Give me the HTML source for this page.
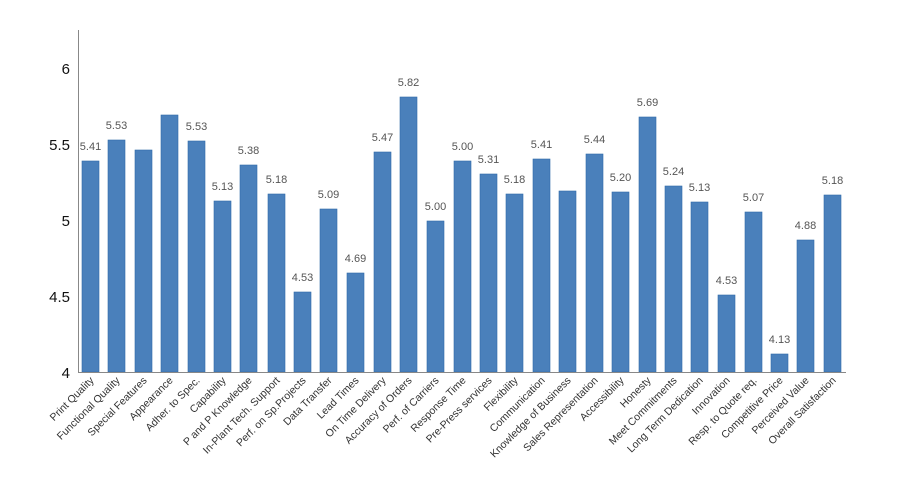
<!DOCTYPE html>
<html><head><meta charset="utf-8"><style>body{margin:0;background:#fff}svg{display:block}</style></head><body>
<svg width="900" height="500" xmlns="http://www.w3.org/2000/svg" font-family="Liberation Sans, sans-serif">
<g font-size="15" fill="#111" text-anchor="end">
<text x="70" y="74">6</text><text x="70" y="150">5.5</text><text x="70" y="226">5</text><text x="70" y="302">4.5</text><text x="70" y="378">4</text>
</g>
<g fill="#4a80bb" stroke="#2f6aa8" stroke-width="0.6">
<rect x="82" y="161" width="17" height="211"/>
<rect x="108" y="140" width="17" height="232"/>
<rect x="135" y="150" width="17" height="222"/>
<rect x="161" y="115" width="17" height="257"/>
<rect x="188" y="141" width="17" height="231"/>
<rect x="214" y="201" width="17" height="171"/>
<rect x="240" y="165" width="17" height="207"/>
<rect x="268" y="194" width="17" height="178"/>
<rect x="294" y="292" width="17" height="80"/>
<rect x="320" y="209" width="17" height="163"/>
<rect x="347" y="273" width="17" height="99"/>
<rect x="374" y="152" width="17" height="220"/>
<rect x="400" y="97" width="17" height="275"/>
<rect x="427" y="221" width="17" height="151"/>
<rect x="454" y="161" width="17" height="211"/>
<rect x="480" y="174" width="17" height="198"/>
<rect x="506" y="194" width="17" height="178"/>
<rect x="533" y="159" width="17" height="213"/>
<rect x="559" y="191" width="17" height="181"/>
<rect x="586" y="154" width="17" height="218"/>
<rect x="612" y="192" width="17" height="180"/>
<rect x="639" y="117" width="17" height="255"/>
<rect x="665" y="186" width="17" height="186"/>
<rect x="691" y="202" width="17" height="170"/>
<rect x="718" y="295" width="17" height="77"/>
<rect x="745" y="212" width="17" height="160"/>
<rect x="771" y="354" width="17" height="18"/>
<rect x="797" y="240" width="17" height="132"/>
<rect x="824" y="195" width="17" height="177"/>
</g>
<g font-size="11" fill="#555" text-anchor="middle">
<text x="90.5" y="150">5.41</text>
<text x="116.5" y="129">5.53</text>
<text x="196.5" y="130">5.53</text>
<text x="222.5" y="190">5.13</text>
<text x="248.5" y="154">5.38</text>
<text x="276.5" y="183">5.18</text>
<text x="302.5" y="281">4.53</text>
<text x="328.5" y="198">5.09</text>
<text x="355.5" y="262">4.69</text>
<text x="382.5" y="141">5.47</text>
<text x="408.5" y="86">5.82</text>
<text x="435.5" y="210">5.00</text>
<text x="462.5" y="150">5.00</text>
<text x="488.5" y="163">5.31</text>
<text x="514.5" y="183">5.18</text>
<text x="541.5" y="148">5.41</text>
<text x="594.5" y="143">5.44</text>
<text x="620.5" y="181">5.20</text>
<text x="647.5" y="106">5.69</text>
<text x="673.5" y="175">5.24</text>
<text x="699.5" y="191">5.13</text>
<text x="726.5" y="284">4.53</text>
<text x="753.5" y="201">5.07</text>
<text x="779.5" y="343">4.13</text>
<text x="805.5" y="229">4.88</text>
<text x="832.5" y="184">5.18</text>
</g>
<g font-size="10.5" fill="#333" text-anchor="end">
<text transform="translate(94.5,381) rotate(-45)">Print Quality</text>
<text transform="translate(120.5,381) rotate(-45)">Functional Quality</text>
<text transform="translate(147.5,381) rotate(-45)">Special Features</text>
<text transform="translate(173.5,381) rotate(-45)">Appearance</text>
<text transform="translate(200.5,381) rotate(-45)">Adher. to Spec.</text>
<text transform="translate(226.5,381) rotate(-45)">Capability</text>
<text transform="translate(252.5,381) rotate(-45)">P and P Knowledge</text>
<text transform="translate(280.5,381) rotate(-45)">In-Plant Tech. Support</text>
<text transform="translate(306.5,381) rotate(-45)">Perf. on Sp.Projects</text>
<text transform="translate(332.5,381) rotate(-45)">Data Transfer</text>
<text transform="translate(359.5,381) rotate(-45)">Lead Times</text>
<text transform="translate(386.5,381) rotate(-45)">On Time Delivery</text>
<text transform="translate(412.5,381) rotate(-45)">Accuracy of Orders</text>
<text transform="translate(439.5,381) rotate(-45)">Perf. of Carriers</text>
<text transform="translate(466.5,381) rotate(-45)">Response Time</text>
<text transform="translate(492.5,381) rotate(-45)">Pre-Press services</text>
<text transform="translate(518.5,381) rotate(-45)">Flexibility</text>
<text transform="translate(545.5,381) rotate(-45)">Communication</text>
<text transform="translate(571.5,381) rotate(-45)">Knowledge of Business</text>
<text transform="translate(598.5,381) rotate(-45)">Sales Representation</text>
<text transform="translate(624.5,381) rotate(-45)">Accessibility</text>
<text transform="translate(651.5,381) rotate(-45)">Honesty</text>
<text transform="translate(677.5,381) rotate(-45)">Meet Commitments</text>
<text transform="translate(703.5,381) rotate(-45)">Long Term Dedication</text>
<text transform="translate(730.5,381) rotate(-45)">Innovation</text>
<text transform="translate(757.5,381) rotate(-45)">Resp. to Quote req.</text>
<text transform="translate(783.5,381) rotate(-45)">Competitive Price</text>
<text transform="translate(809.5,381) rotate(-45)">Perceived Value</text>
<text transform="translate(836.5,381) rotate(-45)">Overall Satisfaction</text>
</g>
<line x1="78.5" y1="30" x2="78.5" y2="372" stroke="#888" stroke-width="1"/>
<line x1="78" y1="372.5" x2="846" y2="372.5" stroke="#888" stroke-width="1"/>
</svg>
</body></html>
